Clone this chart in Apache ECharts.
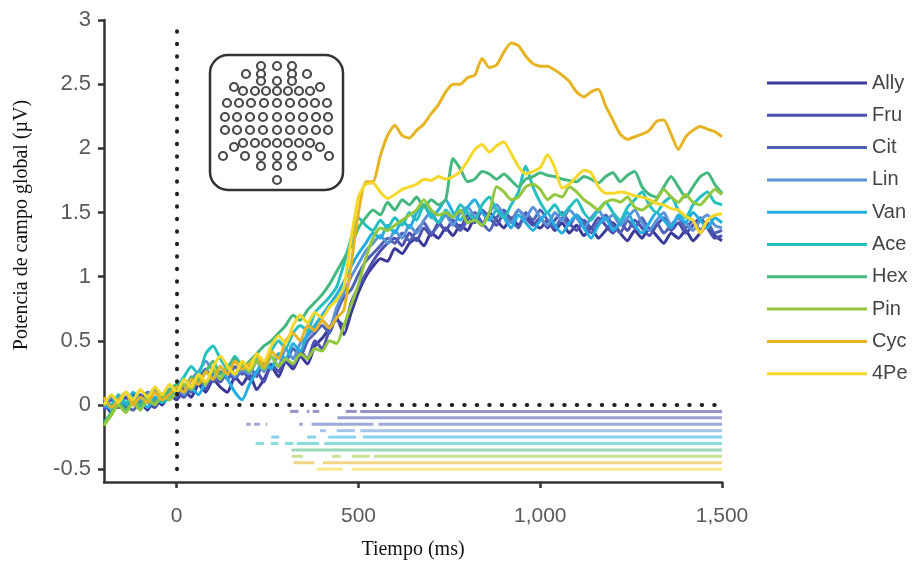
<!DOCTYPE html>
<html>
<head>
<meta charset="utf-8">
<script src="https://cdn.jsdelivr.net/npm/echarts@6/dist/echarts.min.js"></script>
<style>
  html, body { margin: 0; padding: 0; background: #fff; }
  #chart { width: 924px; height: 565px; }
</style>
</head>
<body>
<div id="chart"></div>
<script>
// tiempo (ms)
const times = [
  -200, -180, -160, -140, -120, -100, -80, -60, -40, -20,
  0, 20, 40, 60, 80, 100, 120, 140, 160, 180,
  200, 220, 240, 260, 280, 300, 320, 340, 360, 380,
  400, 420, 440, 460, 480, 500, 520, 540, 560, 580,
  600, 620, 640, 660, 680, 700, 720, 740, 760, 780,
  800, 820, 840, 860, 880, 900, 920, 940, 960, 980,
  1000, 1020, 1040, 1060, 1080, 1100, 1120, 1140, 1160, 1180,
  1200, 1220, 1240, 1260, 1280, 1300, 1320, 1340, 1360, 1380,
  1400, 1420, 1440, 1460, 1480, 1500
]

const names = ["Ally", "Fru", "Cit", "Lin", "Van", "Ace", "Hex", "Pin", "Cyc", "4Pe"]
const colors = ["#3b3a98", "#4b50b0", "#4f62b5", "#5b93d8", "#22aee3", "#26bfbf", "#45b880", "#93c83e", "#e6b422", "#f5d82a"]

const ally = [
  0.02, -0.06, 0.04, -0.02, 0.08, 0.02, -0.04, 0.06, 0.0, 0.08,
  0.04, 0.12, 0.06, 0.16, 0.1, 0.2, 0.14, 0.1, 0.22, 0.16,
  0.24, 0.12, 0.2, 0.3, 0.22, 0.34, 0.28, 0.38, 0.32, 0.46,
  0.52, 0.6, 0.68, 0.55, 0.72, 0.88, 1.0, 1.08, 1.14, 1.12,
  1.22, 1.18, 1.26, 1.3, 1.24, 1.34, 1.3, 1.38, 1.32, 1.4,
  1.36, 1.46, 1.4, 1.5, 1.44, 1.38, 1.46, 1.4, 1.48, 1.42,
  1.38, 1.44, 1.36, 1.42, 1.34, 1.4, 1.32, 1.38, 1.3, 1.36,
  1.42, 1.34, 1.28, 1.36, 1.3, 1.38, 1.32, 1.26, 1.34, 1.3,
  1.36, 1.28, 1.34, 1.4, 1.32, 1.28
]
const fru = [
  -0.04, 0.04, -0.02, 0.06, 0.0, 0.08, 0.02, -0.02, 0.06, 0.04,
  0.1, 0.06, 0.14, 0.2, 0.12, 0.24, 0.18, 0.26, 0.2, 0.28,
  0.2, 0.26, 0.18, 0.32, 0.26, 0.36, 0.3, 0.42, 0.36, 0.5,
  0.44, 0.58, 0.66, 0.62, 0.8, 0.92, 1.02, 1.12, 1.2, 1.26,
  1.3, 1.24, 1.34, 1.28, 1.38, 1.32, 1.42, 1.36, 1.44, 1.38,
  1.48, 1.42, 1.52, 1.46, 1.4, 1.5, 1.44, 1.52, 1.46, 1.4,
  1.46, 1.38, 1.44, 1.5, 1.42, 1.36, 1.44, 1.38, 1.46, 1.4,
  1.34, 1.42, 1.36, 1.44, 1.38, 1.32, 1.4, 1.46, 1.36, 1.42,
  1.34, 1.4, 1.46, 1.38, 1.3, 1.32
]
const cit = [
  0.04, -0.02, 0.06, 0.0, -0.04, 0.04, 0.1, 0.02, 0.08, 0.12,
  0.06, 0.16, 0.1, 0.2, 0.28, 0.18, 0.26, 0.2, 0.3, 0.24,
  0.3, 0.22, 0.34, 0.28, 0.4, 0.34, 0.44, 0.38, 0.5, 0.56,
  0.62, 0.56, 0.72, 0.84, 0.9, 1.02, 1.12, 1.18, 1.24, 1.3,
  1.26, 1.34, 1.28, 1.36, 1.42, 1.34, 1.4, 1.48, 1.42, 1.36,
  1.44, 1.5, 1.42, 1.36, 1.46, 1.52, 1.44, 1.38, 1.5, 1.44,
  1.52, 1.44, 1.38, 1.46, 1.4, 1.48, 1.42, 1.34, 1.42, 1.48,
  1.4, 1.34, 1.44, 1.38, 1.46, 1.36, 1.42, 1.34, 1.4, 1.46,
  1.38, 1.44, 1.36, 1.42, 1.34, 1.36
]
const lin = [
  -0.02, 0.06, 0.0, 0.1, 0.04, 0.0, 0.08, 0.12, 0.04, 0.1,
  0.14, 0.08, 0.2, 0.26, 0.34, 0.26, 0.2, 0.3, 0.22, 0.28,
  0.24, 0.34, 0.26, 0.38, 0.3, 0.44, 0.36, 0.48, 0.54, 0.6,
  0.66, 0.6, 0.76, 0.88, 1.0, 1.1, 1.2, 1.26, 1.32, 1.26,
  1.36, 1.3, 1.4, 1.34, 1.44, 1.5, 1.42, 1.48, 1.4, 1.5,
  1.54, 1.46, 1.4, 1.5, 1.56, 1.48, 1.42, 1.52, 1.46, 1.54,
  1.46, 1.4, 1.5, 1.44, 1.52, 1.46, 1.38, 1.46, 1.52, 1.44,
  1.48, 1.4, 1.46, 1.52, 1.42, 1.36, 1.44, 1.5, 1.4, 1.46,
  1.42, 1.36, 1.44, 1.48, 1.4, 1.38
]
const van = [
  0.02, -0.04, 0.06, 0.0, 0.1, 0.04, -0.02, 0.06, 0.02, 0.08,
  0.12, 0.2, 0.14, 0.08, 0.18, 0.22, 0.3, 0.2, 0.1, 0.04,
  0.16, 0.26, 0.34, 0.28, 0.4, 0.36, 0.48, 0.42, 0.56, 0.62,
  0.7, 0.78, 0.86, 0.96, 1.08, 1.18, 1.26, 1.34, 1.3, 1.4,
  1.34, 1.44, 1.38, 1.5, 1.56, 1.46, 1.52, 1.6, 1.5, 1.44,
  1.54, 1.6, 1.5, 1.44, 1.52, 1.46, 1.38, 1.48, 1.42, 1.36,
  1.44, 1.5, 1.4, 1.34, 1.42, 1.48, 1.38, 1.3, 1.4, 1.46,
  1.36, 1.42, 1.5, 1.4, 1.34, 1.42, 1.5, 1.44, 1.38, 1.48,
  1.42, 1.5, 1.44, 1.38, 1.46, 1.42
]
const ace = [
  0.04, 0.0, 0.08, 0.02, 0.06, -0.02, 0.04, 0.1, 0.02, 0.06,
  0.14, 0.22, 0.3, 0.24, 0.4, 0.46, 0.36, 0.28, 0.38, 0.3,
  0.26, 0.36, 0.3, 0.42, 0.5, 0.44, 0.56, 0.62, 0.58, 0.72,
  0.78, 0.84, 0.92, 1.1, 1.3, 1.46, 1.4, 1.36, 1.44, 1.38,
  1.46, 1.4, 1.5, 1.44, 1.56, 1.48, 1.42, 1.52, 1.46, 1.56,
  1.5, 1.44, 1.56, 1.62, 1.52, 1.46, 1.56, 1.66, 1.86, 1.7,
  1.58, 1.5, 1.56, 1.48, 1.54, 1.6, 1.5, 1.44, 1.52, 1.58,
  1.5, 1.44, 1.54, 1.6, 1.66, 1.56, 1.5, 1.58, 1.62, 1.52,
  1.46, 1.56, 1.62, 1.66, 1.58, 1.56
]
const hex = [
  -0.14, -0.06, 0.02, -0.04, 0.04, 0.0, 0.08, 0.02, 0.06, 0.12,
  0.16, 0.1, 0.22, 0.18, 0.26, 0.34, 0.24, 0.3, 0.36, 0.28,
  0.34, 0.4, 0.46, 0.5, 0.56, 0.62, 0.7, 0.66, 0.74, 0.8,
  0.86, 0.94, 1.04, 1.14, 1.24, 1.38, 1.46, 1.52, 1.48, 1.58,
  1.52, 1.6, 1.56, 1.62, 1.54, 1.6, 1.56, 1.6, 1.92, 1.84,
  1.74, 1.76, 1.82, 1.8, 1.76, 1.8, 1.75, 1.7, 1.76, 1.78,
  1.81, 1.79, 1.78, 1.76, 1.75, 1.74, 1.78, 1.76, 1.73, 1.78,
  1.81, 1.74, 1.79, 1.82, 1.7, 1.64, 1.62, 1.7, 1.78, 1.7,
  1.62, 1.7, 1.78, 1.81, 1.72, 1.65
]
const pin = [
  -0.16, -0.08, 0.0, -0.06, 0.02, -0.04, 0.04, 0.0, 0.08, 0.04,
  0.1, 0.16, 0.12, 0.22, 0.16, 0.28, 0.2, 0.3, 0.24, 0.32,
  0.26, 0.34, 0.28, 0.38, 0.3, 0.36, 0.32, 0.4, 0.36, 0.44,
  0.42, 0.5, 0.48, 0.62, 0.78, 0.94, 1.14, 1.3, 1.38, 1.36,
  1.4, 1.44, 1.48, 1.52, 1.6, 1.52, 1.48, 1.5, 1.46, 1.52,
  1.42, 1.44, 1.4, 1.5, 1.7, 1.66, 1.6, 1.62, 1.7, 1.72,
  1.68, 1.6, 1.64, 1.62, 1.7, 1.66, 1.6, 1.56, 1.52, 1.58,
  1.6, 1.58, 1.62, 1.54, 1.52, 1.56, 1.6, 1.68, 1.62, 1.58,
  1.64, 1.58, 1.56, 1.62, 1.68, 1.64
]
const cyc = [
  0.06, -0.02, 0.04, 0.1, 0.0, 0.06, 0.02, 0.1, 0.04, 0.08,
  0.14, 0.1, 0.2, 0.16, 0.26, 0.2, 0.3, 0.24, 0.34, 0.28,
  0.32, 0.38, 0.3, 0.42, 0.36, 0.5, 0.56, 0.5, 0.62, 0.58,
  0.66, 0.6, 0.68, 0.74, 1.1, 1.5, 1.74, 1.74, 1.94, 2.1,
  2.18, 2.1, 2.08, 2.14, 2.19, 2.27, 2.34, 2.44, 2.5, 2.5,
  2.55, 2.57, 2.7, 2.63, 2.65, 2.75, 2.82, 2.8, 2.72, 2.66,
  2.64, 2.64, 2.61, 2.57, 2.52, 2.44, 2.4, 2.44, 2.46, 2.33,
  2.22, 2.11, 2.07, 2.09, 2.11, 2.14, 2.21, 2.22, 2.11, 1.99,
  2.09, 2.14, 2.17, 2.15, 2.13, 2.09
]
const pe4 = [
  0.0, 0.08, 0.02, 0.1, 0.04, 0.12, 0.06, 0.14, 0.08, 0.16,
  0.1, 0.2, 0.14, 0.24, 0.18, 0.3, 0.38, 0.3, 0.24, 0.34,
  0.28, 0.4, 0.34, 0.46, 0.54, 0.48, 0.62, 0.7, 0.64, 0.72,
  0.68, 0.76, 0.82, 0.92, 1.3, 1.62, 1.72, 1.73, 1.66, 1.61,
  1.64, 1.68, 1.7, 1.72, 1.76, 1.75, 1.78, 1.76, 1.78, 1.82,
  1.9, 1.99, 2.03, 1.97, 2.02, 2.05, 1.96, 1.86, 1.8, 1.82,
  1.85, 1.95, 1.85, 1.69, 1.72, 1.78, 1.83, 1.81, 1.7, 1.65,
  1.65, 1.66, 1.65, 1.63, 1.62, 1.6, 1.57, 1.56, 1.53, 1.52,
  1.47, 1.44, 1.34, 1.44, 1.48, 1.49
]
const allSeries = [ally, fru, cit, lin, van, ace, hex, pin, cyc, pe4]

// tramos significativos (ms), una fila por condición
const sigAlly = [[312, 335], [358, 365], [374, 392], [465, 495], [505, 1500]]
const sigFru = [[442, 1500]]
const sigCit = [[191, 204], [213, 229], [245, 249], [337, 347], [371, 541], [555, 1500]]
const sigLin = [[394, 410], [440, 490], [505, 1500]]
const sigVan = [[260, 282], [359, 383], [417, 493], [512, 1500]]
const sigAce = [[217, 240], [259, 280], [298, 321], [330, 392], [406, 1500]]
const sigHex = [[316, 1500]]
const sigPin = [[316, 347], [428, 451], [482, 530], [543, 1500]]
const sigCyc = [[321, 379], [402, 1500]]
const sig4Pe = [[385, 456], [481, 1500]]
const sigAll = [sigAlly, sigFru, sigCit, sigLin, sigVan, sigAce, sigHex, sigPin, sigCyc, sig4Pe]
const sigRows = [-0.05, -0.1, -0.15, -0.2, -0.25, -0.3, -0.35, -0.4, -0.45, -0.5]

const xTicks = [0, 500, 1000, 1500]
const yTicks = [-0.5, 0, 0.5, 1, 1.5, 2, 2.5, 3]

const sigData = []
sigAll.forEach((segs, k) => {
  segs.forEach(s => sigData.push([s[0], s[1], sigRows[k], k]))
})

// icono de electrodos (decorativo)
const headRows = [
  [66, [261, 277, 292]],
  [74, [246, 261, 292, 307]],
  [81, [261, 277, 292]],
  [87, [234, 320]],
  [91, [243, 255, 266, 277, 288, 299, 310]],
  [103, [227, 239, 251, 264, 277, 290, 303, 315, 327]],
  [117, [225, 237, 250, 263, 277, 290, 303, 316, 328]],
  [130, [225, 237, 250, 263, 277, 290, 303, 316, 328]],
  [143, [243, 255, 266, 277, 288, 299, 310]],
  [147, [234, 320]],
  [156, [223, 245, 261, 277, 292, 307, 329]],
  [166, [261, 277, 292]],
  [180, [277]]
]
const headGraphics = [{
  type: "rect",
  shape: { x: 210, y: 55, width: 133, height: 135, r: 18 },
  style: { fill: "#fff", stroke: "#333", lineWidth: 2.5 },
  z: 10
}]
headRows.forEach(row => {
  row[1].forEach(cx => {
    headGraphics.push({
      type: "circle",
      shape: { cx: cx, cy: row[0], r: 4 },
      style: { fill: "#fff", stroke: "#4a4a4a", lineWidth: 2.2 },
      z: 11
    })
  })
})

const chart = echarts.init(document.getElementById("chart"))

const lineSeries = names.map((n, i) => ({
  name: n,
  type: "line",
  data: times.map((t, j) => [t, allSeries[i][j]]),
  showSymbol: false,
  smooth: 0.2,
  lineStyle: { width: 3, color: colors[i] },
  itemStyle: { color: colors[i] },
  z: 3,
  silent: true
}))

const option = {
  animation: false,
  grid: { left: 104, right: 202, top: 20, bottom: 83 },
  legend: {
    orient: "vertical",
    left: 762,
    top: 68,
    data: names,
    icon: "rect",
    itemWidth: 100,
    itemHeight: 3,
    itemGap: 12.3,
    textStyle: { fontSize: 20, color: "#444", fontFamily: "Liberation Sans" },
    selectedMode: false
  },
  xAxis: {
    type: "value",
    min: -200,
    max: 1500,
    splitLine: { show: false },
    axisLine: { onZero: false, lineStyle: { color: "#333", width: 2.5 } },
    axisTick: { customValues: xTicks, length: 6, lineStyle: { color: "#333", width: 2.5 } },
    axisLabel: {
      customValues: xTicks,
      margin: 24,
      fontSize: 21,
      color: "#5a5a5a",
      fontFamily: "Liberation Sans",
      formatter: v => v.toLocaleString("en-US")
    },
    name: "Tiempo (ms)",
    nameLocation: "middle",
    nameGap: 58,
    nameTextStyle: { fontSize: 20, color: "#111", fontFamily: "Liberation Serif" }
  },
  yAxis: {
    type: "value",
    min: -0.6,
    max: 3,
    splitLine: { show: false },
    axisLine: { show: true, onZero: false, lineStyle: { color: "#333", width: 2.5 } },
    axisTick: { show: true, customValues: yTicks, length: 6, lineStyle: { color: "#333", width: 2.5 } },
    axisLabel: {
      customValues: yTicks,
      margin: 13,
      fontSize: 22,
      color: "#5a5a5a",
      fontFamily: "Liberation Sans",
      formatter: v => String(v)
    }
  },
  graphic: [
    {
      type: "text",
      x: 22,
      y: 225,
      rotation: Math.PI / 2,
      style: {
        text: "Potencia de campo global (µV)",
        font: '20px "Liberation Serif"',
        fill: "#111",
        align: "center",
        verticalAlign: "middle"
      }
    },
    ...headGraphics
  ],
  series: [
    {
      name: "sig",
      type: "custom",
      silent: true,
      data: sigData,
      encode: { x: [0, 1], y: 2 },
      renderItem: (params, api) => {
        const a = api.coord([api.value(0), api.value(2)])
        const b = api.coord([api.value(1), api.value(2)])
        return {
          type: "rect",
          shape: { x: a[0], y: a[1] - 1.5, width: b[0] - a[0], height: 3 },
          style: { fill: colors[api.value(3)], opacity: 0.55 }
        }
      },
      z: 2
    },
    {
      name: "guides",
      type: "line",
      data: [],
      silent: true,
      markLine: {
        silent: true,
        symbol: "none",
        label: { show: false },
        lineStyle: { color: "#222", width: 4, type: [0.5, 12], cap: "round" },
        data: [
          [{ coord: [0, 0] }, { coord: [1500, 0] }],
          [{ coord: [0, -0.5] }, { coord: [0, 2.93] }]
        ]
      },
      z: 1
    },
    ...lineSeries
  ]
}

chart.setOption(option)
</script>
</body>
</html>
